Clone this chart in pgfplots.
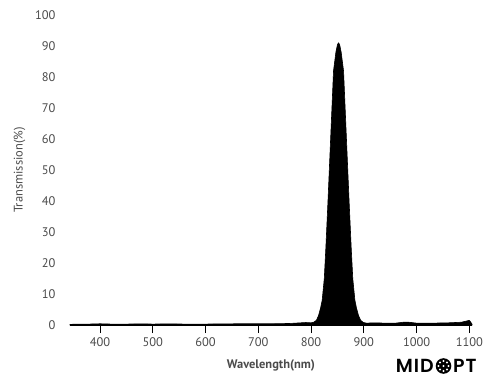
\documentclass[border=0pt]{standalone}
\usepackage{fontspec}
\setmainfont{PT Sans}
\newfontfamily\logofont{Poppins}[BoldFont=* SemiBold]
\usepackage{pgfplots}
\pgfplotsset{compat=1.18}
\usetikzlibrary{calc}
\definecolor{txt}{RGB}{75,75,75}
\begin{document}
\begin{tikzpicture}[x=1bp,y=1bp]
\begin{axis}[
  name=ax,
  at={(0,0)}, anchor=south west,
  scale only axis,
  width=402bp, height=310bp,
  xmin=343, xmax=1105, ymin=0, ymax=100,
  axis line style={draw=none},
  axis x line*=bottom,
  axis y line*=left,
  xtick={400,500,...,1100},
  ytick={0,10,...,100},
  x tick style={black, line width=1pt},
  major tick length=8bp,
  xtick align=outside,
  y tick style={draw=none},
  tick label style={font=\fontsize{12.5}{14}\selectfont, text=txt},
  /pgf/number format/assume math mode=true,
  /pgf/number format/1000 sep={},
  yticklabel style={xshift=-11bp},
  xticklabel style={yshift=-1bp},
  xlabel={\textbf{Wavelength(nm)}},
  ylabel={Transmission(\%)},
  label style={font=\fontsize{12.5}{14}\selectfont, text=txt},
  xlabel style={yshift=-6bp},
  ylabel style={yshift=3bp},
  clip=false,
]
\addplot[draw=black, fill=black, line width=0.6pt] coordinates {
(343,0.2) (360,0.3) (380,0.3) (400,0.4) (420,0.3) (450,0.3) (480,0.35) (500,0.3)
(530,0.35) (560,0.3) (600,0.3) (630,0.35) (660,0.4) (700,0.4) (730,0.4) (760,0.5)
(780,0.7) (790,0.8) (800,0.7) (805,0.9) (810,1.5) (814,3) (818,5.5) (821,8)
(825,15) (828,25) (832,40) (836,56) (839.5,70) (842.5,82) (847,88) (850,90.5) (852,91)
(854,90.5) (857,88) (861.5,82) (864.5,70) (868,56) (872,40) (876,25) (879,15)
(883,8) (886,5.5) (890,3) (894,1.5) (899,0.8) (905,0.6) (920,0.7) (940,0.6)
(960,0.6) (975,0.9) (985,0.9) (1000,0.6) (1030,0.6) (1060,0.7) (1085,0.9)
(1095,1.3) (1100,1.5) (1103,0.8) (1105,0.3)
} \closedcycle;
\draw[black, line width=1.2pt] (axis cs:343,0) -- (axis cs:1105,0);
\end{axis}
% logo
\node[anchor=east, inner sep=0, font=\logofont\bfseries\fontsize{19}{19}\selectfont] (mid) at ($(ax.south west)+(364bp,-41bp)$) {M\kern1bp I\kern1bp D};
\fill[black] ($(ax.south west)+(373.5bp,-41bp)$) circle (7.8bp);
\foreach \a in {0,45,...,315} {\fill[white] ($(ax.south west)+(373.5bp,-41bp)+(\a:5bp)$) circle (1.1bp);}
\fill[white] ($(ax.south west)+(373.5bp,-41bp)$) circle (1.2bp);
\node[anchor=west, inner sep=0, font=\logofont\bfseries\fontsize{19}{19}\selectfont] at ($(ax.south west)+(383bp,-41bp)$) {P\kern1bp T};
\pgfresetboundingbox
\path ($(ax.south west)+(-70bp,-63bp)$) rectangle ($(ax.south west)+(430bp,325bp)$);
\end{tikzpicture}
\end{document}
